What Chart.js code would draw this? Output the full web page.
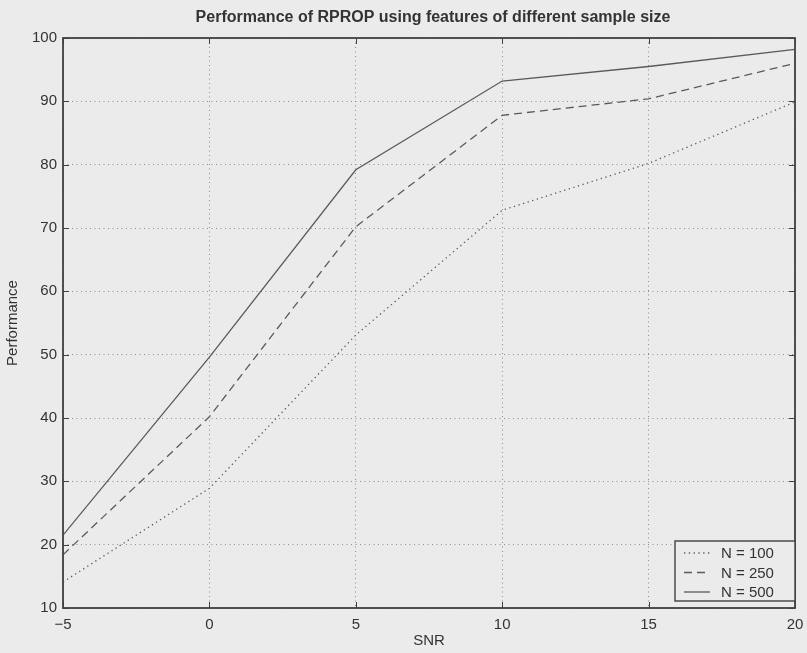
<!DOCTYPE html>
<html>
<head>
<meta charset="utf-8">
<title>RPROP performance</title>
<script src="https://cdn.jsdelivr.net/npm/chart.js@4.4.1/dist/chart.umd.min.js"></script>
<style>
  html, body { margin: 0; padding: 0; background: #ebebeb; }
  #wrap { width: 807px; height: 653px; }
</style>
</head>
<body>
<div id="wrap"><canvas id="rpropChart" width="807" height="653"></canvas></div>
<script>
// SNR (dB) on the x axis, one performance series per sample size
const snr = [-5, 0, 5, 10, 15, 20];
const perfN100 = [14.1, 28.9, 53.1, 72.8, 80.2, 89.9];
const perfN250 = [18.4, 40.2, 70.2, 87.8, 90.4, 96.0];
const perfN500 = [21.5, 49.6, 79.2, 93.2, 95.5, 98.2];
const seriesLabels = ["N = 100", "N = 250", "N = 500"];
const xTicks = [-5, 0, 5, 10, 15, 20];
const yTicks = [10, 20, 30, 40, 50, 60, 70, 80, 90, 100];

const FONT = "'Liberation Sans', Arial, Helvetica, sans-serif";
const INK = "#333333";
const LINE = "#5a5a5a";

function points(ys) {
    return snr.map((x, i) => ({ x: x, y: ys[i] }));
}

function series(label, ys, dash) {
    return {
        label: label,
        data: points(ys),
        borderColor: LINE,
        borderWidth: 1.3,
        borderDash: dash,
        pointRadius: 0,
        tension: 0,
        fill: false
    };
}

// box, inward ticks, titles and legend drawn MATLAB style
const matlabFrame = {
    id: "matlabFrame",
    beforeDraw(chart) {
        const ctx = chart.ctx;
        ctx.save();
        ctx.fillStyle = "#ebebeb";
        ctx.fillRect(0, 0, chart.width, chart.height);
        ctx.restore();
    },
    afterDatasetsDraw(chart) {
        const ctx = chart.ctx;
        const a = chart.chartArea;
        const xs = chart.scales.x, ys = chart.scales.y;
        ctx.save();
        ctx.strokeStyle = "#404040";
        ctx.lineWidth = 1.8;
        ctx.strokeRect(a.left, a.top, a.right - a.left, a.bottom - a.top);
        ctx.lineWidth = 1;
        ctx.beginPath();
        xTicks.forEach(v => {
            const px = Math.round(xs.getPixelForValue(v)) + 0.5;
            ctx.moveTo(px, a.bottom); ctx.lineTo(px, a.bottom - 6);
            ctx.moveTo(px, a.top); ctx.lineTo(px, a.top + 6);
        });
        yTicks.forEach(v => {
            const py = Math.round(ys.getPixelForValue(v)) + 0.5;
            ctx.moveTo(a.left, py); ctx.lineTo(a.left + 6, py);
            ctx.moveTo(a.right, py); ctx.lineTo(a.right - 6, py);
        });
        ctx.stroke();
        ctx.restore();
    },
    afterDraw(chart) {
        const ctx = chart.ctx;
        const a = chart.chartArea;
        const cx = (a.left + a.right) / 2;
        const cy = (a.top + a.bottom) / 2;
        ctx.save();
        ctx.fillStyle = INK;
        ctx.textAlign = "center";
        ctx.textBaseline = "middle";

        ctx.font = "bold 16px " + FONT;
        ctx.fillText("Performance of RPROP using features of different sample size", cx + 4, 18);

        ctx.font = "15px " + FONT;
        ctx.fillText("SNR", cx, 641);

        ctx.save();
        ctx.translate(13, cy);
        ctx.rotate(-Math.PI / 2);
        ctx.fillText("Performance", 0, 0);
        ctx.restore();

        // legend in the lower right corner
        const bw = 120, bh = 60;
        const bx = a.right - bw, by = 541;
        ctx.fillStyle = "#ebebeb";
        ctx.fillRect(bx, by, bw, bh);
        ctx.strokeStyle = "#404040";
        ctx.lineWidth = 1.4;
        ctx.strokeRect(bx, by, bw, bh);
        ctx.font = "15px " + FONT;
        ctx.textAlign = "left";
        chart.data.datasets.forEach((ds, i) => {
            const ly = by + 12 + i * 19.5;
            ctx.strokeStyle = ds.borderColor;
            ctx.lineWidth = ds.borderWidth;
            ctx.setLineDash(ds.borderDash || []);
            ctx.beginPath();
            ctx.moveTo(bx + 9, ly);
            ctx.lineTo(bx + 35, ly);
            ctx.stroke();
            ctx.setLineDash([]);
            ctx.fillStyle = INK;
            ctx.fillText(ds.label, bx + 46, ly + 1);
        });
        ctx.restore();
    }
};

new Chart(document.getElementById("rpropChart").getContext("2d"), {
    type: "line",
    data: {
        datasets: [
            series(seriesLabels[0], perfN100, [1.3, 3.5]),
            series(seriesLabels[1], perfN250, [8, 5]),
            series(seriesLabels[2], perfN500, [])
        ]
    },
    plugins: [matlabFrame],
    options: {
        responsive: false,
        animation: false,
        layout: { padding: { top: 38, right: 12, left: 0, bottom: 0 } },
        plugins: {
            legend: { display: false },
            title: { display: false },
            tooltip: { enabled: false }
        },
        scales: {
            x: {
                type: "linear",
                min: -5,
                max: 20,
                afterFit(scale) {
                    scale.height = 45;
                    scale.paddingLeft = 0;
                    scale.paddingRight = 0;
                },
                afterBuildTicks(scale) { scale.ticks = xTicks.map(v => ({ value: v })); },
                ticks: {
                    color: INK,
                    padding: 8,
                    maxRotation: 0,
                    font: { family: FONT, size: 15 },
                    callback: v => (v < 0 ? "\u2212" + Math.abs(v) : v)
                },
                grid: { color: "#8c8c8c", lineWidth: 1, drawTicks: false },
                border: { display: false, dash: [1, 3.5] }
            },
            y: {
                min: 10,
                max: 100,
                afterFit(scale) {
                    scale.width = 63;
                    scale.paddingTop = 0;
                    scale.paddingBottom = 0;
                },
                afterBuildTicks(scale) { scale.ticks = yTicks.map(v => ({ value: v })); },
                ticks: {
                    color: INK,
                    padding: 6,
                    font: { family: FONT, size: 15 }
                },
                grid: { color: "#8c8c8c", lineWidth: 1, drawTicks: false },
                border: { display: false, dash: [1, 3.5] }
            }
        }
    }
});
</script>
</body>
</html>
